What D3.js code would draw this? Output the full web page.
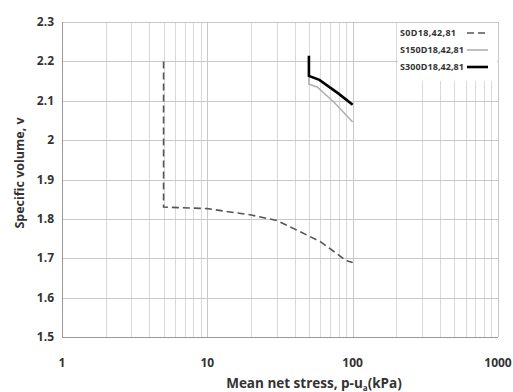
<!DOCTYPE html>
<html>
<head>
<meta charset="utf-8">
<script src="https://cdn.jsdelivr.net/npm/d3@7"></script>
<style>
body{margin:0;background:#fff;}
text{font-family:"Open Sans",sans-serif;}
</style>
</head>
<body>
<svg id="chart" width="513" height="392"></svg>
<script>
// 数据
var seriesNames = ["S0D18,42,81","S150D18,42,81","S300D18,42,81"];
var s0 = [[5,2.2],[5,1.83],[10,1.826],[20,1.81],[30,1.796],[40,1.774],[60,1.742],[77,1.713],[90,1.694],[100,1.689]];
var s150 = [[50,2.16],[50,2.142],[57,2.135],[75,2.095],[100,2.046]];
var s300 = [[50,2.214],[50,2.163],[59,2.153],[80,2.118],[100,2.09]];
var yTicks = [1.5,1.6,1.7,1.8,1.9,2,2.1,2.2,2.3];
var xTicks = [1,10,100,1000];

var L = 62, R = 498, T = 22, B = 337;
var svg = d3.select("#chart");
var x = d3.scaleLog().domain([1,1000]).range([L,R]);
var y = d3.scaleLinear().domain([1.5,2.3]).range([B,T]);

// 网格 竖线 (次刻度)
var minor = [];
[1,10,100].forEach(function(d){
	for(var k=2;k<=9;k++) minor.push(d*k);
});
svg.append("g").selectAll("line")
	.data(minor.concat([10,100]))
	.enter().append("line")
	.attr("x1",function(d){return Math.round(x(d))+0.5})
	.attr("x2",function(d){return Math.round(x(d))+0.5})
	.attr("y1",T).attr("y2",B)
	.attr("stroke",function(d){return (d==10||d==100)?"#c8c8c8":"#d9d9d9"})
	.attr("stroke-width",1);

// 横线
svg.append("g").selectAll("line")
	.data(yTicks)
	.enter().append("line")
	.attr("x1",L).attr("x2",R)
	.attr("y1",function(d){return Math.round(y(d))+0.5})
	.attr("y2",function(d){return Math.round(y(d))+0.5})
	.attr("stroke","#c8c8c8");

// 图例底
svg.append("rect").attr("x",398).attr("y",23).attr("width",99).attr("height",58).attr("fill","#fff");
svg.append("line").attr("x1",R+0.5).attr("x2",R+0.5).attr("y1",T).attr("y2",B).attr("stroke","#c8c8c8");
svg.append("line").attr("x1",L).attr("x2",R).attr("y1",T+0.5).attr("y2",T+0.5).attr("stroke","#c8c8c8");

// 坐标轴线
svg.append("line").attr("x1",L+0.5).attr("x2",L+0.5).attr("y1",T).attr("y2",B).attr("stroke","#999");
svg.append("line").attr("x1",L).attr("x2",R).attr("y1",B+0.5).attr("y2",B+0.5).attr("stroke","#999");

// 刻度文字
svg.append("g").selectAll("text")
	.data(yTicks).enter().append("text")
	.attr("x",54).attr("y",function(d){return y(d)+4})
	.attr("text-anchor","end")
	.attr("font-size",12).attr("font-weight","bold").attr("fill","#333")
	.text(function(d){return d});
svg.append("g").selectAll("text")
	.data(xTicks).enter().append("text")
	.attr("x",function(d){return x(d)}).attr("y",367)
	.attr("text-anchor","middle")
	.attr("font-size",12).attr("font-weight","bold").attr("fill","#333")
	.text(function(d){return d});

// 轴标题
var xt = svg.append("text").attr("x",314).attr("y",388).attr("text-anchor","middle")
	.attr("font-size",13.5).attr("font-weight","bold").attr("fill","#333");
xt.append("tspan").text("Mean net stress, p-u");
xt.append("tspan").attr("font-size",8).attr("dy",3).text("a");
xt.append("tspan").attr("dy",-3).text("(kPa)");
svg.append("text").attr("transform","translate(24,173) rotate(-90)")
	.attr("text-anchor","middle").attr("font-size",12.5).attr("font-weight","bold").attr("fill","#333")
	.text("Specific volume, v");

// 曲线
var line = d3.line().x(function(d){return x(d[0])}).y(function(d){return y(d[1])});
var styles = [
	{data:s0,color:"#555",w:1.6,dash:"7,4"},
	{data:s150,color:"#b0b0b0",w:1.6,dash:null},
	{data:s300,color:"#000",w:2.6,dash:null}
];
styles.forEach(function(s){
	svg.append("path").attr("d",line(s.data))
		.attr("fill","none").attr("stroke",s.color)
		.attr("stroke-width",s.w).attr("stroke-dasharray",s.dash);
});

// 图例
var lg = svg.append("g").attr("transform","translate(400,33)");
seriesNames.forEach(function(n,i){
	lg.append("text").attr("x",0).attr("y",i*17+3)
		.attr("font-size",9).attr("font-weight","bold").attr("fill","#333")
		.attr("textLength",i==0?56:64).text(n);
	lg.append("line").attr("x1",67).attr("x2",88).attr("y1",i*17).attr("y2",i*17)
		.attr("stroke",styles[i].color).attr("stroke-width",styles[i].w)
		.attr("stroke-dasharray",styles[i].dash);
});
</script>
</body>
</html>
